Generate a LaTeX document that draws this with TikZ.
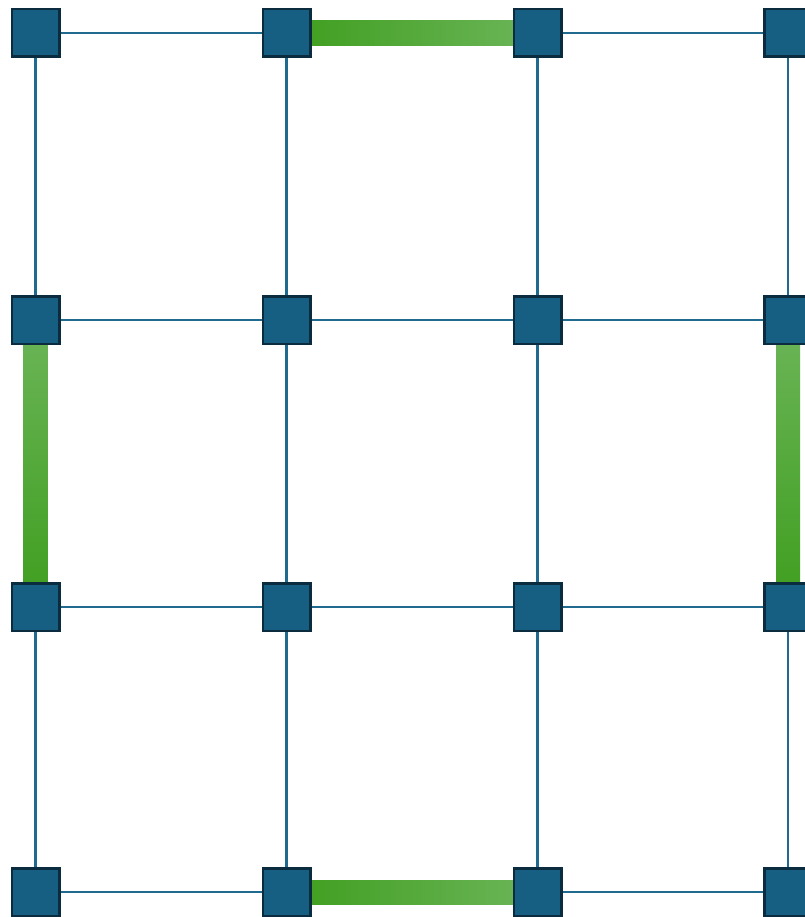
\documentclass[tikz,border=0pt]{standalone}
\usetikzlibrary{calc}
\definecolor{sqfill}{HTML}{165E82}
\definecolor{sqedge}{HTML}{0B2B3E}
\definecolor{wire}{HTML}{1F6A8E}
\definecolor{gdark}{HTML}{42A023}
\definecolor{glight}{HTML}{68B354}
\tikzset{
  sq/.style={draw=sqedge, fill=sqfill, line width=2.5pt, minimum size=47.5pt, inner sep=0pt, outer sep=0pt},
  wireline/.style={draw=wire, line width=2.6pt},
}
\begin{document}
\begin{tikzpicture}[x=1pt,y=-1pt]
\useasboundingbox (0,0) rectangle (804,917);
\def\colA{35.5}\def\colB{286.5}\def\colC{537.5}\def\colD{788}
\def\rowA{33}\def\rowB{320}\def\rowC{607}\def\rowD{892}
% nodes
\foreach \r/\ry in {1/\rowA,2/\rowB,3/\rowC,4/\rowD}{
  \foreach \c/\cx in {1/\colA,2/\colB,3/\colC,4/\colD}{
    \node[sq] (n\r\c) at (\cx,\ry) {};
  }
}
% horizontal wires
\foreach \r in {1,2,3,4}{
  \draw[wireline] (n\r1) -- (n\r2);
  \draw[wireline] (n\r3) -- (n\r4);
}
\draw[wireline] (n22) -- (n23);
\draw[wireline] (n32) -- (n33);
% vertical wires
\foreach \c in {1,2,3,4}{
  \draw[wireline] (n1\c) -- (n2\c);
  \draw[wireline] (n3\c) -- (n4\c);
}
\draw[wireline] (n22) -- (n32);
\draw[wireline] (n23) -- (n33);
% green links
\shade[left color=gdark, right color=glight] ($(n12.east)+(0,-12.5)$) rectangle ($(n13.west)+(0,12.5)$);
\shade[left color=gdark, right color=glight] ($(n42.east)+(0,-12)$) rectangle ($(n43.west)+(0,12)$);
\shade[top color=glight, bottom color=gdark] ($(n21.south)+(-12,0)$) rectangle ($(n31.north)+(12,0)$);
\shade[top color=glight, bottom color=gdark] ($(n24.south)+(-12,0)$) rectangle ($(n34.north)+(12,0)$);
% redraw nodes on top
\foreach \r/\ry in {1/\rowA,2/\rowB,3/\rowC,4/\rowD}{
  \foreach \c/\cx in {1/\colA,2/\colB,3/\colC,4/\colD}{
    \node[sq] at (\cx,\ry) {};
  }
}
\end{tikzpicture}
\end{document}
